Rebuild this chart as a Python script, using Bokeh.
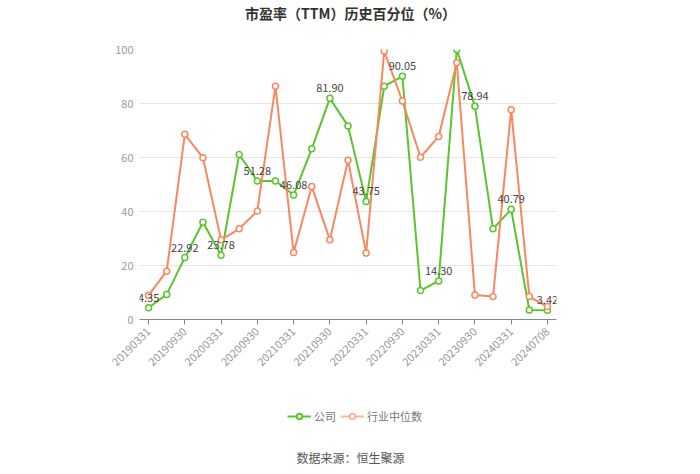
import numpy as np
from bokeh.plotting import figure
from bokeh.layouts import column
from bokeh.models import (ColumnDataSource, FixedTicker, Legend, LegendItem,
                          CustomJSTickFormatter, LabelSet)
from bokeh.core.properties import value
from bokeh.embed import file_html
from bokeh.resources import INLINE

dates = ["20190331", "20190630", "20190930", "20191231", "20200331", "20200630",
         "20200930", "20201231", "20210331", "20210630", "20210930", "20211231",
         "20220331", "20220630", "20220930", "20221231", "20230331", "20230630",
         "20230930", "20231231", "20240331", "20240630", "20240708"]
company = [4.35, 9.3, 22.92, 36.0, 23.78, 61.1, 51.28, 51.3, 46.08, 63.2, 81.90, 71.7,
           43.75, 86.4, 90.05, 10.7, 14.30, 100.0, 78.94, 33.6, 40.79, 3.5, 3.42]
industry = [8.9, 17.9, 68.6, 59.9, 29.5, 33.6, 40.2, 86.4, 24.8, 49.3, 29.5, 59.0,
            24.6, 99.4, 80.9, 60.1, 67.8, 95.1, 9.1, 8.5, 77.7, 8.5, 4.8]
y_ticks = [0, 20, 40, 60, 80, 100]
title_text = "市盈率（TTM）历史百分位（%）"
source_text = "数据来源：恒生聚源"
series_names = ["公司", "行业中位数"]

GREEN = "#5ac52c"
ORANGE = "#f7885f"
FONT = "Noto Sans CJK SC"

W = 700
TOP_H, MAIN_H, BOT_H = 30, 360, 84
L, R = 139, 556
FRAME_TOP, FRAME_BOTTOM = 49, 319


def blank(height):
    # frame spans x from L to R; x data units == canvas pixels
    f = figure(width=W, height=height, output_backend="svg", toolbar_location=None,
               x_range=(L, R), y_range=(0, height), x_axis_location=None,
               y_axis_location=None, min_border=0, min_border_left=L,
               min_border_right=W - R)
    f.outline_line_color = None
    f.grid.visible = False
    f.background_fill_color = "white"
    f.border_fill_color = "white"
    return f


# ---- title ----
top = blank(TOP_H)
top.text(x=[350], y=[TOP_H - 12], text=[title_text], text_align="center",
         text_baseline="middle", text_font_size="14px", text_font_style="bold",
         text_color="#333333", text_font=value(FONT))

# ---- main chart ----
xs = list(range(len(dates)))
label_idx = xs[::2]

p = figure(width=W, height=MAIN_H, output_backend="svg", toolbar_location=None,
           x_range=(-0.5, len(dates) - 0.5), y_range=(0, 100),
           min_border_left=L, min_border_right=W - R,
           min_border_top=FRAME_TOP - TOP_H,
           min_border_bottom=TOP_H + MAIN_H - FRAME_BOTTOM)
p.outline_line_color = None
p.background_fill_color = "white"
p.border_fill_color = "white"

src = ColumnDataSource(dict(x=xs, c=company, i=industry))
lc = p.line("x", "c", source=src, line_color=GREEN, line_width=2)
sc = p.scatter("x", "c", source=src, size=6, fill_color="white", line_color=GREEN, line_width=1.5)
li = p.line("x", "i", source=src, line_color=ORANGE, line_width=2)
si = p.scatter("x", "i", source=src, size=6, fill_color="white", line_color=ORANGE, line_width=1.5)

lab_src = ColumnDataSource(dict(x=label_idx, y=[company[k] for k in label_idx],
                                t=["%.2f" % company[k] for k in label_idx]))
p.add_layout(LabelSet(x="x", y="y", text="t", source=lab_src, text_align="center",
                      text_baseline="bottom", y_offset=6, text_font_size="11px",
                      text_color="#444444", text_font=value(FONT)))

p.xaxis.ticker = FixedTicker(ticks=label_idx)
labels_js = "const d = %s; return d[Math.round(tick)] || '';" % str(dates)
p.xaxis.formatter = CustomJSTickFormatter(code=labels_js)
p.xaxis.major_label_orientation = np.pi / 4
p.xaxis.major_label_text_font_size = "11px"
p.xaxis.major_label_text_color = "#999999"
p.xaxis.major_label_text_font = FONT
p.xaxis.axis_line_color = "#888888"
p.xaxis.major_tick_line_color = "#888888"
p.xaxis.major_tick_in = 0
p.xaxis.major_tick_out = 5
p.xaxis.minor_tick_line_color = None

p.yaxis.ticker = FixedTicker(ticks=y_ticks)
p.yaxis.axis_line_color = None
p.yaxis.major_tick_line_color = None
p.yaxis.major_tick_in = 0
p.yaxis.major_tick_out = 0
p.yaxis.minor_tick_line_color = None
p.yaxis.major_label_text_font_size = "11px"
p.yaxis.major_label_text_color = "#999999"
p.yaxis.major_label_text_font = FONT
p.yaxis.major_label_standoff = 6

p.xgrid.grid_line_color = None
p.ygrid.grid_line_color = "#e6e6e6"

# ---- legend + source ----
bot = blank(BOT_H)
off = dict(x=[-1000], y=[-1000])
blc = bot.line(x="x", y="y", source=ColumnDataSource(off), line_color=GREEN, line_width=2)
bsc = bot.scatter(x="x", y="y", source=ColumnDataSource(off), size=9, fill_color="white",
                  line_color=GREEN, line_width=2)
bli = bot.line(x="x", y="y", source=ColumnDataSource(off), line_color=ORANGE, line_width=2,
               line_alpha=0.6)
bsi = bot.scatter(x="x", y="y", source=ColumnDataSource(off), size=9, fill_color="white",
                  line_color=ORANGE, line_width=2, line_alpha=0.6)
legend = Legend(items=[LegendItem(label=series_names[0], renderers=[blc, bsc]),
                       LegendItem(label=series_names[1], renderers=[bli, bsi])],
                orientation="horizontal", location=(287 - L, BOT_H - (417 - TOP_H - MAIN_H) - 7),
                label_text_font_size="11px", label_text_color="#777777",
                label_text_font=FONT, glyph_width=24, glyph_height=14,
                spacing=4, padding=0, margin=0, label_standoff=3,
                background_fill_alpha=0, border_line_color=None)
bot.add_layout(legend, "center")
bot.text(x=[350], y=[BOT_H - (457 - TOP_H - MAIN_H)], text=[source_text], text_align="center",
         text_baseline="middle", text_font_size="12px", text_color="#555555",
         text_font=value(FONT))

layout = column(top, p, bot, spacing=0)
open("out.html", "w").write(file_html(layout, INLINE))
